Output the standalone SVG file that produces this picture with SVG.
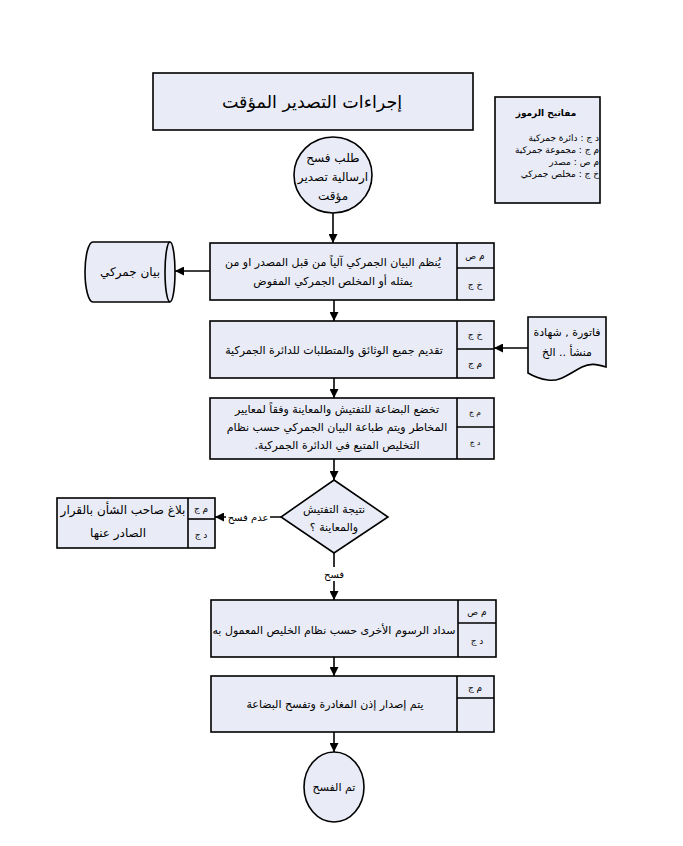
<svg xmlns="http://www.w3.org/2000/svg" width="683" height="846" viewBox="0 0 683 846">
<defs>
<style>
.shape{fill:#e9ecf7;stroke:#000;stroke-width:1.6}
.line{fill:none;stroke:#000;stroke-width:1.6}
text{font-family:"DejaVu Sans","Noto Sans",sans-serif;fill:#000}
.t{font-size:12px;text-anchor:middle}
.b{font-size:11px;text-anchor:middle}
.s{font-size:9px;text-anchor:middle}
.xs{font-size:7.5px;text-anchor:middle}
.lg{font-size:9px}
</style>
<marker id="arr" viewBox="0 0 10 10" refX="10" refY="5" markerWidth="9" markerHeight="9" markerUnits="userSpaceOnUse" orient="auto">
<path d="M0,0 L10,5 L0,10 Z" fill="#000"/>
</marker>
</defs>
<rect width="683" height="846" fill="#fff"/>

<g id="title">
<rect x="153" y="73" width="320" height="57" class="shape" stroke-width="2.2"/>
<text x="312" y="108" direction="rtl" style="font-size:17.5px;text-anchor:middle">إجراءات التصدير المؤقت</text>
</g>

<g id="legend">
<rect x="495" y="97" width="105" height="106" class="shape" stroke-width="2"/>
<text x="546" y="116" direction="rtl" style="font-size:9px;font-weight:bold;text-anchor:middle">مفاتيح الرموز</text>
<text x="599" y="141" direction="rtl" class="lg" text-anchor="start">د ج  : دائرة جمركية</text>
<text x="599" y="153" direction="rtl" class="lg" text-anchor="start">م ج  : مجموعة جمركية</text>
<text x="599" y="165" direction="rtl" class="lg" text-anchor="start">م ص  :  مصدر</text>
<text x="599" y="177" direction="rtl" class="lg" text-anchor="start">خ ج  : مخلص جمركي</text>
</g>

<g id="start">
<ellipse cx="333" cy="175" rx="39" ry="38" class="shape"/>
<text x="333" y="162" direction="rtl" class="t">طلب فسح</text>
<text x="333" y="181" direction="rtl" class="t">ارسالية تصدير</text>
<text x="333" y="200" direction="rtl" class="t">مؤقت</text>
</g>

<g id="step1">
<rect x="210" y="243" width="284" height="57" class="shape"/>
<line x1="457" y1="243" x2="457" y2="300" class="line"/>
<line x1="457" y1="268" x2="494" y2="268" class="line"/>
<text x="333" y="266" direction="rtl" class="b">يُنظم البيان الجمركي آلياً من قبل  المصدر او من</text>
<text x="333" y="285" direction="rtl" class="b">يمثله أو  المخلص الجمركي المفوض</text>
<text x="475" y="259" direction="rtl" class="s">م ص</text>
<text x="475" y="288" direction="rtl" class="s">خ ج</text>
</g>

<g id="customs-declaration">
<path d="M93,242 L170,242 A5,30 0 0 1 170,302 L93,302 A8,30 0 0 1 93,242 Z" class="shape"/>
<path d="M170,242 A5,30 0 0 0 170,302" class="line"/>
<text x="130" y="276" direction="rtl" class="t">بيان جمركي</text>
</g>

<g id="step2">
<rect x="210" y="321" width="284" height="57" class="shape"/>
<line x1="457" y1="321" x2="457" y2="378" class="line"/>
<line x1="457" y1="349" x2="494" y2="349" class="line"/>
<text x="334" y="354" direction="rtl" class="b">تقديم جميع الوثائق والمتطلبات للدائرة الجمركية</text>
<text x="475" y="338" direction="rtl" class="s">خ ج</text>
<text x="475" y="367" direction="rtl" class="s">م ج</text>
</g>

<g id="documents">
<path d="M528,317 L606,317 L606,367 C596,364 590,363 582,367 C570,373 560,382 548,380 C540,379 533,376 528,373 Z" class="shape"/>
<text x="567" y="336" direction="rtl" class="b">فاتورة , شهادة</text>
<text x="567" y="356" direction="rtl" class="b">منشأ .. الخ</text>
</g>

<g id="step3">
<rect x="210" y="398" width="284" height="61" class="shape"/>
<line x1="457" y1="398" x2="457" y2="459" class="line"/>
<line x1="457" y1="427" x2="494" y2="427" class="line"/>
<text x="337" y="413" direction="rtl" class="b">تخضع البضاعة للتفتيش والمعاينة وفقاً لمعايير</text>
<text x="337" y="431" direction="rtl" class="b">المخاطر ويتم طباعة البيان الجمركي حسب نظام</text>
<text x="337" y="449" direction="rtl" class="b">التخليص المتبع في الدائرة الجمركية.</text>
<text x="475" y="415" direction="rtl" class="xs">م ج</text>
<text x="475" y="445" direction="rtl" class="xs">د ج</text>
</g>

<g id="decision">
<polygon points="334,480 388,517 334,553 281,517" class="shape"/>
<text x="334" y="513" direction="rtl" class="b">نتيجة التفتيش</text>
<text x="334" y="531" direction="rtl" class="b">والمعاينة ؟</text>
</g>

<g id="notify">
<rect x="57" y="498" width="158" height="50" class="shape"/>
<line x1="188" y1="498" x2="188" y2="548" class="line"/>
<line x1="188" y1="519" x2="215" y2="519" class="line"/>
<text x="123" y="514" direction="rtl" class="t">بلاغ صاحب الشأن بالقرار</text>
<text x="118" y="537" direction="rtl" class="t">الصادر عنها</text>
<text x="201" y="512" direction="rtl" class="s">م ج</text>
<text x="201" y="538" direction="rtl" class="s">د ج</text>
</g>

<g id="step4">
<rect x="211" y="600" width="285" height="57" class="shape"/>
<line x1="458" y1="600" x2="458" y2="657" class="line"/>
<line x1="458" y1="623" x2="496" y2="623" class="line"/>
<text x="334" y="634" direction="rtl" class="b">سداد الرسوم الأخرى حسب نظام الخليص المعمول به</text>
<text x="477" y="615" direction="rtl" class="s">م ص</text>
<text x="477" y="644" direction="rtl" class="s">د ج</text>
</g>

<g id="step5">
<rect x="211" y="676" width="283" height="56" class="shape"/>
<line x1="457" y1="676" x2="457" y2="732" class="line"/>
<line x1="457" y1="698" x2="494" y2="698" class="line"/>
<text x="335" y="708" direction="rtl" class="b">يتم إصدار إذن المغادرة وتفسح البضاعة</text>
<text x="475" y="691" direction="rtl" class="s">م ج</text>
</g>

<g id="end">
<ellipse cx="334" cy="787" rx="30" ry="35" class="shape"/>
<text x="334" y="791" direction="rtl" class="b">تم الفسح</text>
</g>

<g id="connectors">
<line x1="333" y1="213" x2="333" y2="243" class="line" marker-end="url(#arr)"/>
<line x1="210" y1="271" x2="175" y2="271" class="line" marker-end="url(#arr)"/>
<line x1="334" y1="300" x2="334" y2="321" class="line" marker-end="url(#arr)"/>
<line x1="528" y1="348" x2="494" y2="348" class="line" marker-end="url(#arr)"/>
<line x1="334" y1="378" x2="334" y2="398" class="line" marker-end="url(#arr)"/>
<line x1="334" y1="459" x2="334" y2="480" class="line" marker-end="url(#arr)"/>
<line x1="281" y1="517" x2="215" y2="517" class="line" marker-end="url(#arr)"/>
<line x1="334" y1="553" x2="334" y2="600" class="line" marker-end="url(#arr)"/>
<line x1="334" y1="657" x2="334" y2="676" class="line" marker-end="url(#arr)"/>
<line x1="334" y1="732" x2="334" y2="752" class="line" marker-end="url(#arr)"/>
<rect x="226" y="510" width="44" height="14" fill="#fff"/>
<text x="248" y="521" direction="rtl" style="font-size:10px;text-anchor:middle">عدم فسح</text>
<rect x="322" y="567" width="24" height="14" fill="#fff"/>
<text x="334" y="578" direction="rtl" style="font-size:10px;text-anchor:middle">فسح</text>
</g>
</svg>
